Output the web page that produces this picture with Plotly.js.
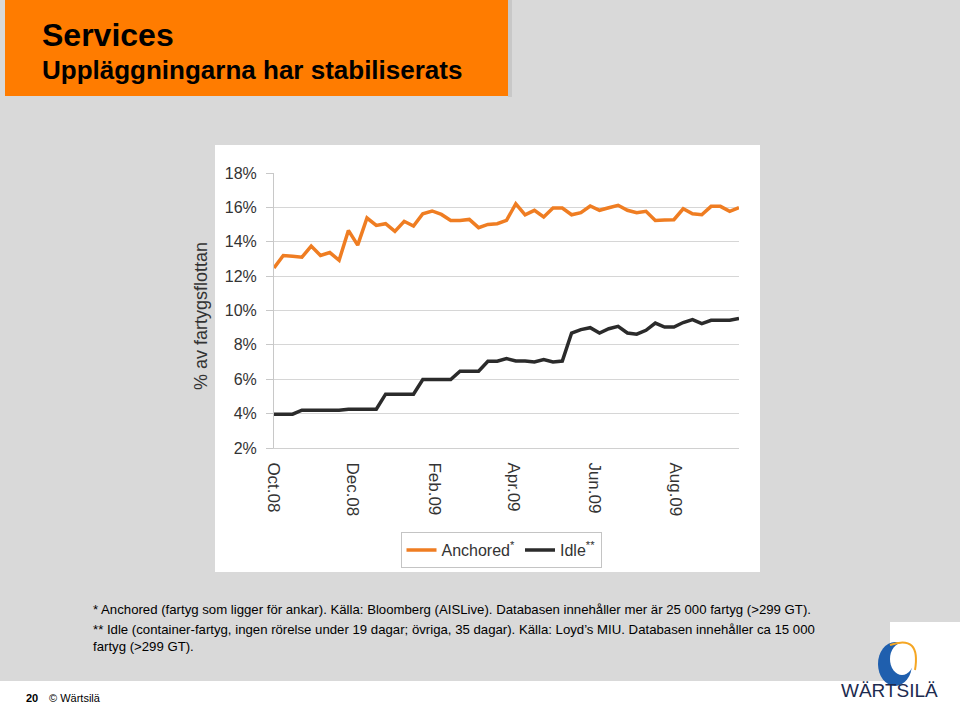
<!DOCTYPE html>
<html>
<head>
<meta charset="utf-8">
<script src="https://cdn.plot.ly/plotly-3.0.1.min.js"></script>
<style>html,body{margin:0;padding:0;background:#fff;}#chart{width:960px;height:718px;}</style>
</head>
<body>
<div id="chart"></div>
<script>
// ---- Data ----
const startDate = '2008-10-03';   // first weekly observation
const anchored = [12.47,13.2,13.15,13.1,13.75,13.2,13.37,12.92,14.66,13.8,15.38,14.95,15.05,14.6,15.19,14.91,15.63,15.79,15.59,15.24,15.24,15.3,14.82,15.01,15.05,15.24,16.21,15.57,15.83,15.44,15.96,15.96,15.57,15.69,16.08,15.83,15.98,16.12,15.83,15.69,15.77,15.24,15.27,15.28,15.92,15.63,15.57,16.06,16.06,15.77,15.98];
const idle = [3.97,3.97,3.97,4.2,4.2,4.2,4.2,4.2,4.26,4.26,4.26,4.26,5.13,5.13,5.13,5.13,5.98,5.98,5.98,5.98,6.47,6.47,6.47,7.05,7.05,7.2,7.06,7.06,7.0,7.14,7.0,7.06,8.69,8.89,9.0,8.69,8.94,9.08,8.69,8.62,8.85,9.27,9.04,9.04,9.3,9.47,9.24,9.43,9.43,9.43,9.53];
const seriesNames = ['Anchored<sup>*</sup>', 'Idle<sup>**</sup>'];
const xTickDates = ['2008-10-03','2008-12-01','2009-02-01','2009-04-01','2009-06-01','2009-08-01'];
const xTickLabels = ['Oct.08','Dec.08','Feb.09','Apr.09','Jun.09','Aug.09'];
const yTickVals = [2,4,6,8,10,12,14,16,18];
const yTickLabels = ['2%','4%','6%','8%','10%','12%','14%','16%','18%'];
const yTitle = '% av fartygsflottan';
const titleMain = 'Services';
const titleSub = 'Uppläggningarna har stabiliserats';
const note1 = '* Anchored (fartyg som ligger för ankar). Källa: Bloomberg (AISLive). Databasen innehåller mer är 25 000 fartyg (>299 GT).';
const note2 = '** Idle (container-fartyg, ingen rörelse under 19 dagar; övriga, 35 dagar). Källa: Loyd’s MIU. Databasen innehåller ca 15 000';
const note3 = 'fartyg (>299 GT).';
const pageNo = '20';
const copyright = '© Wärtsilä';
const logoText = 'WÄRTSILÄ';

// weekly dates
const dates = [];
{
  const d0 = new Date(startDate + 'T00:00:00Z');
  for (let i = 0; i < anchored.length; i++) {
    const d = new Date(d0.getTime() + i * 7 * 86400000);
    dates.push(d.toISOString().slice(0, 10));
  }
}

// ---- layout geometry ----
const L = 274, R = 739, T = 173, B = 448;
const W = 960, H = 718;
const px = x => (x - L) / (R - L);
const py = y => (B - y) / (B - T);

function rect(x0, y0, x1, y1, fill) {
  return {type: 'rect', xref: 'paper', yref: 'paper', layer: 'below',
    x0: px(x0), x1: px(x1), y0: py(y1), y1: py(y0), fillcolor: fill,
    line: {width: 0}};
}
function ellipse(cx, cy, rx, ry, fill) {
  return {type: 'circle', xref: 'paper', yref: 'paper', layer: 'above',
    x0: px(cx - rx), x1: px(cx + rx), y0: py(cy + ry), y1: py(cy - ry),
    fillcolor: fill, line: {width: 0}};
}

const shapes = [
  rect(0, 0, W, 681, '#d9d9d9'),
  rect(890, 622, W, 681, '#ffffff'),
  rect(508, 0, 512, 97, '#c8c8c8'),
  rect(5, 0, 508, 96, '#ff7c00'),
  rect(215, 145, 760, 572, '#ffffff'),
  // logo
  ellipse(895, 664, 17, 22, '#1f5fae'),
  ellipse(902, 659, 12, 16, '#ffffff'),
  {type: 'path', xref: 'paper', yref: 'paper', layer: 'above',
   path: 'M ' + px(890) + ',' + py(645) + ' Q ' + px(921) + ',' + py(634) + ' ' + px(915) + ',' + py(670),
   line: {color: '#f5a623', width: 2}}
];

function ann(text, x, y, size, opts) {
  return Object.assign({text: text, xref: 'paper', yref: 'paper', x: px(x), y: py(y),
    xanchor: 'left', yanchor: 'middle', showarrow: false,
    font: {family: 'Liberation Sans, Arial, sans-serif', size: size, color: '#000'}}, opts || {});
}

const annotations = [
  ann('<b>' + titleMain + '</b>', 40, 35, 32),
  ann('<b>' + titleSub + '</b>', 40, 70, 26),
  ann(yTitle, 201, 316, 18, {textangle: -90, xanchor: 'center', font: {family: 'Liberation Sans, Arial, sans-serif', size: 18, color: '#333'}}),
  ann(note1, 91, 609, 13.2),
  ann(note2, 91, 629, 13.2),
  ann(note3, 91, 646, 13.2),
  ann('<b>' + pageNo + '</b>', 24, 698, 11),
  ann(copyright, 47, 698, 11),
  ann(logoText, 889, 690, 19, {xanchor: 'center', font: {family: 'Liberation Sans, Arial, sans-serif', size: 19, color: '#1d2b4f'}})
];

const traces = [
  {x: dates, y: anchored, name: seriesNames[0], type: 'scatter', mode: 'lines',
   line: {color: '#ef7d22', width: 3.5}},
  {x: dates, y: idle, name: seriesNames[1], type: 'scatter', mode: 'lines',
   line: {color: '#2b2b2b', width: 3.5}}
];

const layout = {
  width: W, height: H,
  margin: {l: L, r: W - R, t: T, b: H - B, autoexpand: false},
  paper_bgcolor: '#ffffff', plot_bgcolor: '#ffffff',
  font: {family: 'Liberation Sans, Arial, sans-serif', color: '#333'},
  showlegend: true,
  legend: {orientation: 'h', x: px(501), xanchor: 'center', y: py(532), yanchor: 'top',
    bordercolor: '#c4c4c4', borderwidth: 1, bgcolor: '#ffffff',
    font: {size: 16, color: '#333'}, itemwidth: 30},
  xaxis: {type: 'date', range: [dates[0], dates[dates.length - 1]],
    tickmode: 'array', tickvals: xTickDates, ticktext: xTickLabels, tickangle: 90,
    tickfont: {size: 17, color: '#333'}, showgrid: false, zeroline: false,
    showline: true, linecolor: '#d0d0d0', ticks: '', ticklabelstandoff: 10},
  yaxis: {range: [2, 18], tickmode: 'array', tickvals: yTickVals, ticktext: yTickLabels,
    tickfont: {size: 16, color: '#333'}, gridcolor: '#d6d6d6', gridwidth: 1,
    showline: true, linecolor: '#c8c8c8', ticks: 'outside', ticklen: 7, tickcolor: '#c8c8c8',
    zeroline: false, ticklabelstandoff: 6},
  shapes: shapes,
  annotations: annotations
};

Plotly.newPlot('chart', traces, layout, {displayModeBar: false, staticPlot: true});
</script>
</body>
</html>
